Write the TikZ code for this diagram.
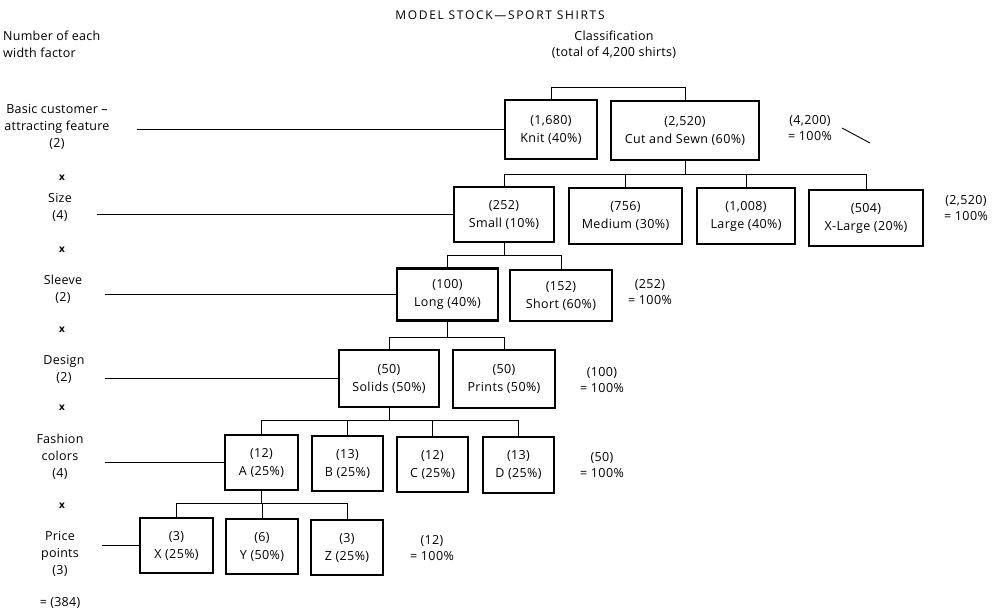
\documentclass[tikz,border=0pt]{standalone}
\usepackage{fontspec}
\setmainfont{Open Sans}
\usepackage{tikz}
\usetikzlibrary{positioning}
\usetikzlibrary{calc}
\tikzset{
    catbox/.style={draw=black, line width=2.6pt, align=center, inner sep=0pt,
        font=\fontsize{12.5}{18}\selectfont\addfontfeatures{LetterSpace=3}},
    boxsize/.style n args={2}{minimum width=#1pt, minimum height=#2pt},
    factor/.style={align=center, inner sep=0pt,
        font=\fontsize{12.5}{17}\selectfont\addfontfeatures{LetterSpace=2}},
    total/.style={align=center, inner sep=0pt,
        font=\fontsize{12.5}{15.5}\selectfont\addfontfeatures{LetterSpace=3}},
    times/.style={inner sep=0pt, font=\fontsize{10}{10}\selectfont\bfseries},
    branch/.style={draw=black, line width=0.9pt},
    feeder/.style={draw=black, line width=1.2pt},
}

\begin{document}
\begin{tikzpicture}[x=1pt, y=-1pt]
    \useasboundingbox (0,0) rectangle (997,613);
    % headings
    \node[inner sep=0pt, font=\fontsize{12}{13}\selectfont\addfontfeatures{LetterSpace=14}] (title) at (500,15) {MODEL STOCK—SPORT SHIRTS};
    \node[factor, font=\fontsize{12.5}{16}\selectfont\addfontfeatures{LetterSpace=2}] (classif) at (614,45) {Classification\\(total of 4,200 shirts)};
    \node[factor, align=left, anchor=west] (head) at (3,44) {Number of each\\width factor};
    % width factors
    \node[factor] (lfeat) at (57,127) {Basic customer –\\attracting feature\\(2)};
    \node[factor] (lsize) at (60,207) {Size\\(4)};
    \node[factor] (lsleeve) at (63,289) {Sleeve\\(2)};
    \node[factor] (ldesign) at (64,369) {Design\\(2)};
    \node[factor] (lcolor) at (60,457) {Fashion\\colors\\(4)};
    \node[factor] (lprice) at (60,554) {Price\\points\\(3)};
    \node[factor] (lresult) at (60,603) {= (384)};
    \foreach \y [count=\i] in {178,250,330,408,506}
        \node[times] (x\i) at (62,\y) {x};

    % level 1
    \node[catbox, boxsize={92}{59}] (knit) at (551,129.5) {(1,680)\\Knit (40\%)};
    \node[catbox, boxsize={148}{59}] (cut) at (685,130.5) {(2,520)\\Cut and Sewn (60\%)};
    \node[total] (t1) at (810,128) {(4,200)\\= 100\%};
    % level 2
    \node[catbox, boxsize={100}{55}] (small) at (504,214.5) {(252)\\Small (10\%)};
    \node[catbox, boxsize={113}{56}] (medium) at (625.5,216) {(756)\\Medium (30\%)};
    \node[catbox, boxsize={98}{56}] (large) at (746,216) {(1,008)\\Large (40\%)};
    \node[catbox, boxsize={114}{56}] (xlarge) at (866,218) {(504)\\X-Large (20\%)};
    \node[total] (t2) at (966,208) {(2,520)\\= 100\%};
    % level 3
    \node[catbox, boxsize={101}{52}] (long) at (447.5,294.5) {(100)\\Long (40\%)};
    \node[catbox, boxsize={102}{51}] (short) at (561,295.5) {(152)\\Short (60\%)};
    \node[total] (t3) at (650,292) {(252)\\= 100\%};
    % level 4
    \node[catbox, boxsize={100}{57}] (solids) at (389,378.5) {(50)\\Solids (50\%)};
    \node[catbox, boxsize={102}{58}] (prints) at (504,379) {(50)\\Prints (50\%)};
    \node[total] (t4) at (602,380) {(100)\\= 100\%};
    % level 5
    \node[catbox, boxsize={73}{55}] (ca) at (261.5,462.5) {(12)\\A (25\%)};
    \node[catbox, boxsize={71}{55}] (cb) at (347.5,463.5) {(13)\\B (25\%)};
    \node[catbox, boxsize={71}{55}] (cc) at (432.5,464.5) {(12)\\C (25\%)};
    \node[catbox, boxsize={71}{56}] (cd) at (518.5,465) {(13)\\D (25\%)};
    \node[total] (t5) at (602,465) {(50)\\= 100\%};
    % level 6
    \node[catbox, boxsize={73}{55}] (px) at (176.5,545.5) {(3)\\X (25\%)};
    \node[catbox, boxsize={72}{55}] (py) at (262,546.5) {(6)\\Y (50\%)};
    \node[catbox, boxsize={72}{55}] (pz) at (347,547.5) {(3)\\Z (25\%)};
    \node[total] (t6) at (432,548) {(12)\\= 100\%};

    % brackets
    \coordinate (bar0) at (0,87);
    \coordinate (bar1) at (0,174);
    \coordinate (bar2) at (0,255);
    \coordinate (bar3) at (0,337);
    \coordinate (bar4) at (0,420);
    \coordinate (bar5) at (0,503);
    \draw[branch] (knit.north) -- (knit.north |- bar0) -- (cut.north |- bar0) -- (cut.north);
    \draw[branch] (cut.south) -- (cut.south |- bar1);
    \draw[branch] (small.north) -- (small.north |- bar1) -- (xlarge.north |- bar1) -- (xlarge.north);
    \foreach \b in {medium,large}
        \draw[branch] (\b.north) -- (\b.north |- bar1);
    \draw[branch] (small.south) -- (small.south |- bar2);
    \draw[branch] (long.north) -- (long.north |- bar2) -- (short.north |- bar2) -- (short.north);
    \draw[branch] (long.south) -- (long.south |- bar3);
    \draw[branch] (solids.north) -- (solids.north |- bar3) -- (prints.north |- bar3) -- (prints.north);
    \draw[branch] (solids.south) -- (solids.south |- bar4);
    \draw[branch] (ca.north) -- (ca.north |- bar4) -- (cd.north |- bar4) -- (cd.north);
    \foreach \b in {cb,cc}
        \draw[branch] (\b.north) -- (\b.north |- bar4);
    \draw[branch] (ca.south) -- (ca.south |- bar5);
    \draw[branch] (px.north) -- (px.north |- bar5) -- (pz.north |- bar5) -- (pz.north);
    \draw[branch] (py.north) -- (py.north |- bar5);

    % lines from the factors
    \coordinate (f1) at (137,0);
    \coordinate (f2) at (97,0);
    \coordinate (f3) at (105,0);
    \coordinate (f4) at (102,0);
    \draw[feeder] (f1 |- knit.west) -- (knit.west);
    \draw[feeder] (f2 |- small.west) -- (small.west);
    \draw[feeder] (f3 |- long.west) -- (long.west);
    \draw[feeder] (f3 |- solids.west) -- (solids.west);
    \draw[feeder] (f3 |- ca.west) -- (ca.west);
    \draw[feeder] (f4 |- px.west) -- (px.west);

    \coordinate (d1) at (842,128);
    \coordinate (d2) at (870,143);
    \draw[branch] (d1) -- (d2);
\end{tikzpicture}
\end{document}
